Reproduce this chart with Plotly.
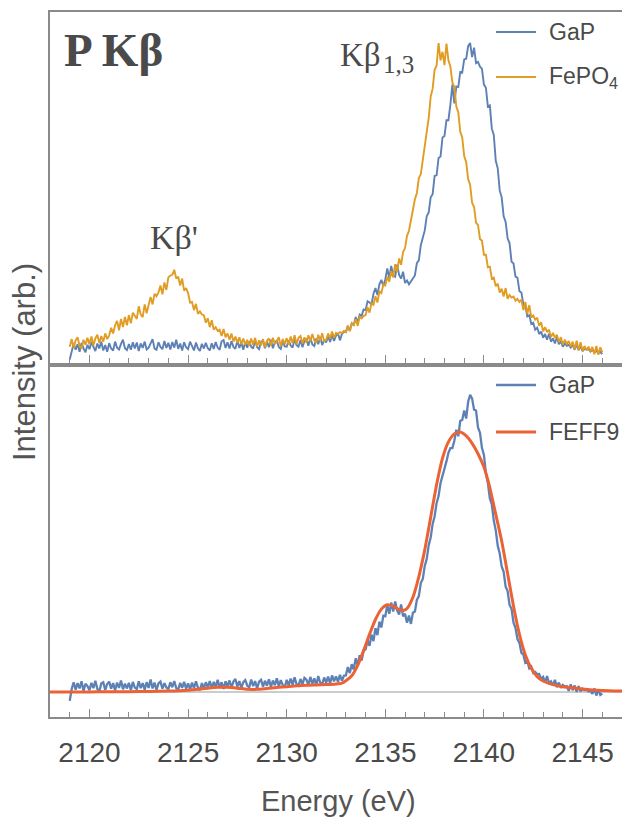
import numpy as np
import plotly.graph_objects as go

# ---------------- data ----------------
E_START, E_STEP = 2119.0, 0.1

gap_top = [
    -5, 22, 46, 26, 44, 20, 48, 30, 18, 42,
    28, 50, 34, 22, 46, 30, 52, 24, 41, 20,
    47, 30, 24, 52, 33, 27, 45, 58, 31, 25,
    44, 26, 50, 30, 49, 22, 46, 32, 52, 27,
    33, 48, 60, 30, 26, 50, 35, 28, 54, 32,
    48, 27, 51, 33, 58, 29, 46, 24, 50, 34,
    28, 52, 35, 24, 49, 31, 22, 45, 30, 48,
    31, 24, 47, 29, 51, 33, 26, 53, 57, 32,
    50, 30, 54, 35, 29, 56, 32, 49, 26, 51,
    33, 53, 36, 30, 57, 34, 28, 51, 55, 31,
    52, 34, 58, 31, 50, 55, 35, 29, 54, 37,
    36, 56, 40, 33, 60, 41, 36, 57, 34, 54,
    59, 39, 64, 43, 38, 62, 44, 67, 41, 58,
    49, 69, 51, 74, 54, 71, 78, 56, 76, 84,
    82, 102, 86, 110, 104, 130, 112, 138, 134, 154,
    152, 180, 176, 170, 204, 222, 200, 234, 248, 228,
    250, 284, 254, 292, 262, 258, 296, 264, 252, 274,
    238, 246, 234, 244, 256, 262, 301, 310, 358, 378,
    405, 450, 462, 510, 520, 578, 580, 635, 640, 700,
    705, 755, 755, 805, 868, 808, 862, 860, 908, 906,
    948, 950, 990, 1000, 955, 985, 936, 940, 925, 918,
    868, 858, 798, 802, 728, 708, 626, 602, 532, 510,
    450, 432, 380, 364, 306, 300, 258, 255, 212, 208,
    170, 166, 132, 136, 108, 112, 90, 96, 76, 84,
    64, 76, 58, 77, 52, 62, 46, 66, 44, 53,
    36, 46, 39, 42, 33, 42, 26, 44, 25, 38,
    22, 30, 26, 28, 20, 26, 18, 23, 16, 19,
    12,
]

fepo4_top = [
    36, 60, 32, 56, 66, 38, 30, 58, 42, 64,
    44, 68, 40, 62, 74, 48, 70, 52, 78, 60,
    72, 96, 78, 104, 118, 88, 124, 98, 130, 104,
    136, 110, 144, 134, 124, 164, 138, 130, 170, 142,
    164, 194, 170, 204, 196, 208, 230, 202, 240, 216,
    256, 262, 264, 280, 252, 258, 230, 252, 214, 222,
    206, 176, 178, 152, 172, 140, 148, 138, 136, 112,
    126, 98, 120, 90, 98, 86, 90, 70, 92, 66,
    78, 58, 78, 52, 68, 48, 66, 44, 62, 42,
    58, 38, 62, 42, 64, 36, 56, 40, 60, 34,
    55, 62, 39, 64, 45, 53, 66, 37, 60, 44,
    63, 42, 68, 47, 72, 44, 64, 70, 46, 66,
    49, 72, 53, 76, 56, 48, 74, 55, 79, 52,
    58, 78, 61, 84, 64, 80, 76, 82, 79, 86,
    82, 102, 86, 110, 104, 124, 102, 131, 126, 134,
    136, 161, 144, 174, 169, 196, 176, 211, 206, 234,
    230, 258, 242, 276, 256, 298, 274, 316, 296, 336,
    349, 388, 404, 441, 464, 504, 524, 571, 584, 628,
    670, 725, 762, 830, 855, 915, 928, 1000, 945, 972,
    930, 998, 945, 925, 875, 860, 798, 780, 718, 700,
    640, 622, 568, 550, 492, 480, 430, 422, 378, 372,
    328, 328, 288, 290, 252, 255, 228, 236, 208, 220,
    195, 222, 188, 200, 192, 195, 182, 188, 178, 185,
    152, 178, 140, 168, 128, 135, 122, 128, 102, 114,
    85, 98, 82, 90, 66, 80, 64, 74, 50, 66,
    42, 58, 45, 54, 36, 52, 28, 55, 25, 50,
    22, 38, 25, 36, 20, 35, 12, 38, 10, 34,
    18,
]

gap_bottom = [
    -30, 10, 33, 8, 30, 12, 36, 4, 28, 20,
    6, 31, 13, 38, 10, 2, 29, 33, 7, 27,
    35, 11, 30, 5, 32, 14, 39, 9, 28, 12,
    31, 6, 34, 15, 10, 36, 13, 30, 8, 33,
    14, 42, 12, 32, 7, 29, 35, 11, 30, 15,
    10, 33, 16, 37, 13, 8, 31, 14, 34, 11,
    29, 9, 32, 13, 36, 15, 6, 30, 12, 33,
    16, 37, 12, 34, 18, 41, 14, 33, 10, 36,
    19, 39, 15, 35, 44, 18, 37, 13, 33, 40,
    22, 16, 42, 20, 37, 12, 35, 41, 18, 38,
    21, 43, 17, 39, 23, 46, 19, 40, 24, 15,
    41, 22, 45, 25, 50, 27, 21, 44, 26, 48,
    42, 24, 51, 28, 46, 23, 54, 31, 27, 49,
    32, 52, 29, 56, 36, 53, 34, 58, 38, 55,
    56, 84, 64, 94, 76, 114, 90, 124, 106, 141,
    144, 174, 156, 194, 172, 216, 192, 238, 218, 258,
    256, 294, 264, 302, 272, 306, 276, 262, 296, 256,
    264, 234, 258, 230, 268, 272, 311, 324, 368, 382,
    426, 449, 496, 522, 568, 594, 638, 662, 706, 729,
    758, 779, 808, 824, 824, 849, 886, 864, 916, 919,
    951, 924, 981, 1004, 991, 954, 951, 894, 876, 824,
    801, 739, 706, 654, 634, 579, 546, 494, 468, 424,
    406, 356, 341, 294, 281, 234, 216, 179, 166, 132,
    126, 99, 104, 80, 86, 64, 68, 60, 61, 44,
    51, 32, 54, 30, 36, 22, 41, 16, 32, 14,
    24, 18, 20, 4, 26, 6, 22, 0, 20, 2,
    11, 6, 8, 2, 4, -6, 12, -12, 9, -10,
    -5,
]

feff9_energy = [
    2118, 2119, 2120, 2121, 2122, 2123, 2124, 2125, 2125.5, 2126, 2126.5,
    2127, 2127.5, 2128, 2128.5, 2129, 2129.5, 2130, 2130.5, 2131, 2131.5,
    2132, 2132.5, 2132.8, 2133, 2133.3, 2133.6, 2133.9, 2134.2, 2134.5,
    2134.8, 2135.1, 2135.4, 2135.7, 2135.9, 2136.1, 2136.4, 2136.7, 2137.0,
    2137.3, 2137.6, 2137.9, 2138.2, 2138.5, 2138.8, 2139.1, 2139.4, 2139.7,
    2140.0, 2140.3, 2140.6, 2140.9, 2141.2, 2141.5, 2141.8, 2142.1, 2142.4,
    2142.7, 2143.0, 2143.5, 2144, 2144.5, 2145, 2145.5, 2146, 2147,
]
feff9_values = [
    0, 0, 0, 1, 1, 2, 3, 6, 9, 13, 16,
    16, 13, 9, 9, 12, 15, 18, 21, 23, 24,
    25, 27, 30, 38, 55, 90, 140, 195, 245,
    280, 295, 290, 278, 275, 282, 320, 390, 480,
    590, 700, 790, 845, 872, 878, 865, 840, 805,
    760, 690, 600, 510, 400, 290, 195, 125, 80,
    52, 37, 25, 18, 14, 10, 7, 5, 3,
]

x_range = [2118, 2147]
major_ticks = [2120, 2125, 2130, 2135, 2140, 2145]

energy = np.round(E_START + E_STEP * np.arange(len(gap_top)), 2)

# ---------------- styling ----------------
BLUE = "#5E81B5"
ORANGE = "#E19C24"
RED = "#EB6235"
AXIS = "#8a8a8a"
TXT = "#4a4a4a"

W, H = 622, 820
ML, MR, MT, MB = 50, 0, 12, 103
PW, PH = W - ML - MR, H - MT - MB


def px(xp):
    return (xp - ML) / PW


def py(yp):
    return (H - MB - yp) / PH


fig = go.Figure()

# top panel (x2, y2)
fig.add_trace(go.Scatter(x=energy, y=gap_top, mode="lines", xaxis="x2", yaxis="y2",
                         line=dict(color=BLUE, width=1.9), showlegend=False))
fig.add_trace(go.Scatter(x=energy, y=fepo4_top, mode="lines", xaxis="x2", yaxis="y2",
                         line=dict(color=ORANGE, width=1.9), showlegend=False))

# bottom panel (x, y)
fig.add_trace(go.Scatter(x=x_range, y=[0, 0], mode="lines", xaxis="x", yaxis="y",
                         line=dict(color="#cccccc", width=2.2), showlegend=False,
                         hoverinfo="skip"))
fig.add_trace(go.Scatter(x=energy, y=gap_bottom, mode="lines", xaxis="x", yaxis="y",
                         line=dict(color=BLUE, width=2.3), showlegend=False))
fig.add_trace(go.Scatter(x=feff9_energy, y=feff9_values, mode="lines", xaxis="x", yaxis="y",
                         line=dict(color=RED, width=3, shape="spline", smoothing=0.6),
                         showlegend=False))

top_y0, bot_y1 = 363, 367
xaxis_common = dict(
    range=x_range, showgrid=False, zeroline=False,
    showline=True, linecolor=AXIS, linewidth=1.5, mirror=True,
    ticks="inside", ticklen=8, tickwidth=1.2, tickcolor=AXIS,
    tickvals=major_ticks,
    minor=dict(ticks="inside", ticklen=5, tickwidth=1, tickcolor=AXIS, dtick=1, tick0=2118),
)

fig.update_layout(
    width=W, height=H,
    margin=dict(l=ML, r=MR, t=MT, b=MB),
    paper_bgcolor="white", plot_bgcolor="white",
    font=dict(family="Liberation Sans, Arial, sans-serif", color=TXT),
    xaxis=dict(**xaxis_common, anchor="y", showticklabels=True,
               tickfont=dict(size=28, color=TXT), ticklabelstandoff=10),
    yaxis=dict(domain=[0, py(bot_y1)], range=[(692 - 717) / 0.296, (692 - bot_y1) / 0.296],
               showgrid=False, zeroline=False, showticklabels=False, ticks="",
               showline=True, linecolor=AXIS, linewidth=1.5),
    xaxis2=dict(**xaxis_common, anchor="y2", matches="x", showticklabels=False),
    yaxis2=dict(domain=[py(top_y0), 1], range=[(358 - top_y0) / 0.315, (358 - MT) / 0.315],
                showgrid=False, zeroline=False, showticklabels=False, ticks="",
                showline=True, linecolor=AXIS, linewidth=1.5),
)

shapes = []
annotations = []


def legend_item(yp, text, color, width):
    shapes.append(dict(type="line", xref="paper", yref="paper",
                       x0=px(496), x1=px(536), y0=py(yp), y1=py(yp),
                       line=dict(color=color, width=width)))
    annotations.append(dict(xref="paper", yref="paper", x=px(547), y=py(yp),
                            xanchor="left", yanchor="middle", showarrow=False,
                            text=text, font=dict(size=23, color=TXT)))


legend_item(32, "GaP", BLUE, 2)
legend_item(77, "FePO<sub>4</sub>", ORANGE, 2)
legend_item(385, "GaP", BLUE, 2.5)
legend_item(432, "FEFF9", RED, 3)

serif = "Liberation Serif, Times New Roman, serif"
annotations.append(dict(xref="paper", yref="paper", x=px(62), y=py(50),
                        xanchor="left", yanchor="middle", showarrow=False,
                        text="<b>P Kβ</b>", font=dict(family=serif, size=47, color=TXT)))
annotations.append(dict(xref="paper", yref="paper", x=px(338), y=py(55),
                        xanchor="left", yanchor="middle", showarrow=False,
                        text="Kβ", font=dict(family=serif, size=33, color=TXT)))
annotations.append(dict(xref="paper", yref="paper", x=px(381), y=py(64),
                        xanchor="left", yanchor="middle", showarrow=False,
                        text="1,3", font=dict(family=serif, size=25, color=TXT)))
annotations.append(dict(xref="paper", yref="paper", x=px(148), y=py(237),
                        xanchor="left", yanchor="middle", showarrow=False,
                        text="Kβ'", font=dict(family=serif, size=34, color=TXT)))
annotations.append(dict(xref="paper", yref="paper", x=px(338), y=py(801),
                        xanchor="center", yanchor="middle", showarrow=False,
                        text="Energy (eV)", font=dict(size=29, color="#555555")))
annotations.append(dict(xref="paper", yref="paper", x=px(24), y=py(362),
                        xanchor="center", yanchor="middle", showarrow=False, textangle=-90,
                        text="Intensity (arb.)", font=dict(size=31, color="#555555")))

fig.update_layout(shapes=shapes, annotations=annotations)
fig.write_html("out.html")
